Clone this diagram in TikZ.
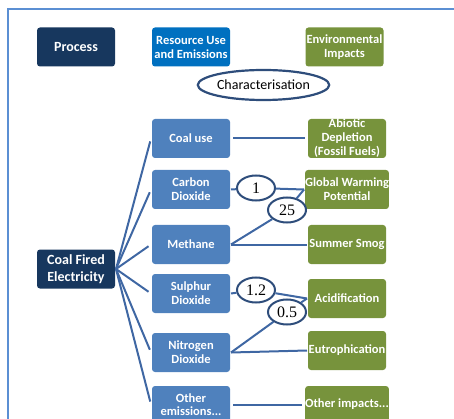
\documentclass[tikz,border=0pt]{standalone}
\usepackage{fontspec}
\setsansfont{Carlito}
\newfontfamily\numfont{Liberation Serif}
\usetikzlibrary{positioning,shapes.geometric}
\definecolor{navybox}{HTML}{17375E}
\definecolor{brightblue}{HTML}{0070C0}
\definecolor{steelbox}{HTML}{4F81BD}
\definecolor{olivebox}{HTML}{77933C}
\definecolor{linkblue}{HTML}{3F67A3}
\definecolor{frameblue}{HTML}{5B8FD3}
\definecolor{ringblue}{HTML}{2E4D7B}

\begin{document}
\begin{tikzpicture}[x=1pt,y=-1pt,line width=2pt,
    box/.style={rectangle,rounded corners=3pt,minimum width=78pt,minimum height=39pt,inner sep=0pt,align=center,text=white,font=\sffamily\bfseries\fontsize{12.5}{14}\selectfont},
    proc node/.style={box,fill=navybox,font=\sffamily\bfseries\fontsize{14}{16.5}\selectfont},
    emis node/.style={box,fill=steelbox},
    imp node/.style={box,fill=olivebox},
    factor/.style={ellipse,draw=ringblue,fill=white,line width=2pt,minimum width=38pt,minimum height=25pt,inner sep=0pt,font=\numfont\fontsize{16}{16}\selectfont},
    link/.style={draw=linkblue,line width=2pt}]
                \useasboundingbox (0,0) rectangle (454,419);
                \draw[frameblue,line width=1.6pt] (8,419) -- (8,9) -- (454,9);

                \node[proc node] (process) at (76,47) {Process};
                \node[box,fill=brightblue] (resource) at (191,47) {Resource Use\\and Emissions};
                \node[imp node] (impacts) at (344.5,47) {Environmental\\Impacts};
                \node[ellipse,draw=ringblue,line width=2.2pt,minimum width=113pt,minimum height=30pt,inner sep=0pt,font=\sffamily\fontsize{14}{16}\selectfont] (charac) at (263.5,85) {Characterisation};

                \node[proc node] (plant) at (76,269) {Coal Fired\\Electricity};

                \node[emis node] (coal) at (191,138.5) {Coal use};
                \node[emis node] (co2) [below=10pt of coal] {Carbon\\Dioxide};
                \node[emis node] (methane) [below=14pt of co2] {Methane};
                \node[emis node] (so2) [below=8pt of methane] {Sulphur\\Dioxide};
                \node[emis node] (no2) [below=18pt of so2] {Nitrogen\\Dioxide};
                \node[emis node,minimum height=37pt,font=\sffamily\bfseries\fontsize{12.5}{13.5}\selectfont] (otheremis) [below=12pt of no2] {Other\\emissions...};

                \node[imp node] (abiotic) at (347,138.5) {Abiotic\\Depletion\\(Fossil Fuels)};
                \node[imp node] (gwp) [below=10pt of abiotic] {Global Warming\\Potential};
                \node[imp node] (smog) [below=14pt of gwp] {Summer Smog};
                \node[imp node] (acid) [below=13pt of smog] {Acidification};
                \node[imp node] (eutro) [below=11pt of acid] {Eutrophication};
                \node[imp node,minimum height=37pt] (otherimp) [below=14pt of eutro] {Other impacts...};

                \node[factor] (f1) at (256,188) {1};
                \node[factor] (f25) at (287,210) {25};
                \node[factor] (f12) at (256,290) {1.2};
                \node[factor] (f05) at (287,312) {0.5};

                \path[link,shorten >=3pt]
                    (plant.east) edge (coal.west)
                    (plant.east) edge (co2.west)
                    (plant.east) edge (methane.west)
                    (plant.east) edge (so2.west)
                    (plant.east) edge (no2.west)
                    (plant.east) edge (otheremis.west)
                    ;
                \path[link]
                    (coal) edge [shorten <=2pt, shorten >=2pt] (abiotic)
                    (co2.east) edge (f1)
                    (f1) edge (gwp.west)
                    (methane.east) edge (f25)
                    (f25) edge (gwp.west)
                    (methane.east) edge (smog.west)
                    (so2.east) edge (f12)
                    (f12) edge (acid.west)
                    (no2.east) edge (f05)
                    (f05) edge (acid.west)
                    (no2.east) edge (eutro.west)
                    (otheremis) edge [shorten <=2pt, shorten >=2pt] (otherimp)
                    ;
            \end{tikzpicture}
\end{document}
